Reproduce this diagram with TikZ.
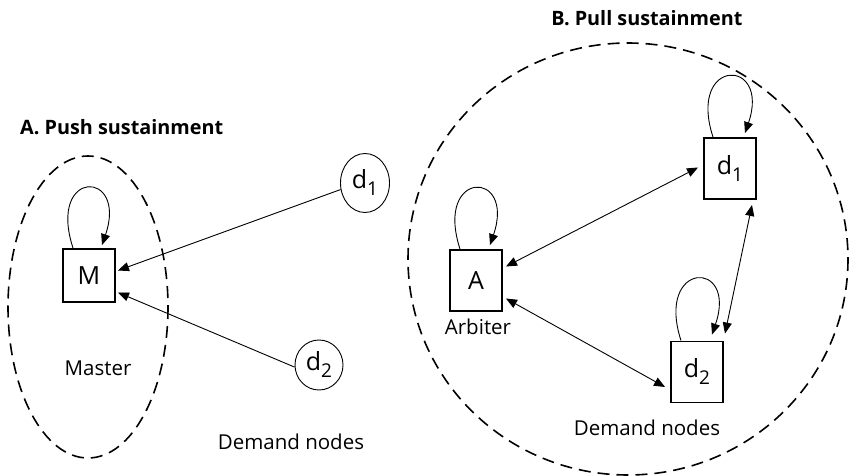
\documentclass[tikz,border=0pt]{standalone}
\usepackage{fontspec}
\setmainfont{Open Sans}
\usetikzlibrary{arrows.meta,shapes.geometric,calc}
\newcommand{\sbs}[1]{\raisebox{-0.28em}{\fontsize{19}{20}\selectfont #1}}
\begin{document}
\begin{tikzpicture}[x=1pt,y=-1pt,
  box/.style={draw,line width=1.9pt,minimum width=52pt,minimum height=61pt,inner sep=0pt,font=\fontsize{25}{28}\selectfont},
  dnode/.style={draw,ellipse,line width=0.9pt,inner sep=0pt,font=\fontsize{25}{28}\selectfont},
  lbl/.style={font=\fontsize{20.5}{24}\selectfont,inner sep=0pt},
  ttl/.style={font=\fontsize{19.8}{23}\selectfont\bfseries,inner sep=0pt},
  arr/.style={-{Triangle[length=11pt,width=9pt]},line width=0.9pt},
  darr/.style={{Triangle[length=11pt,width=9pt]}-{Triangle[length=11pt,width=9pt]},line width=0.9pt},
  group/.style={draw,line width=1.6pt,dash pattern=on 12pt off 7pt}]
\useasboundingbox (0,0) rectangle (849,476);
% A. Push
\node[ttl,anchor=west] (tA) at (20,127) {A. Push sustainment};
\draw[group] (88,307) ellipse [x radius=80, y radius=151];
\node[box,minimum height=53pt] (M) at (89,275.5) {M};
\node[lbl] (master) at (98,368) {Master};
\node[dnode,minimum width=49pt,minimum height=59pt] (d1a) at (365,183) {d\sbs{1}};
\node[dnode,minimum width=48pt,minimum height=50pt] (d2a) at (319,365) {d\sbs{2}};
\node[lbl] (demA) at (291,442) {Demand nodes};
\draw[arr] (d1a.195) -- ($(M.east)+(2,-5)$);
\draw[arr] (d2a.185) -- ($(M.east)+(2,17)$);
\draw[arr] ($(M.north)+(-16,0)$) .. controls +(-26,-80) and +(26,-76) .. ($(M.north)+(13,-3)$);
% B. Pull
\node[ttl] (tB) at (647,18) {B. Pull sustainment};
\draw[group] (628,259) ellipse [x radius=220, y radius=216];
\node[box] (A) at (476,280.5) {A};
\node[lbl] (arb) at (478,327) {Arbiter};
\node[box] (d1) at (730,168.5) {d\sbs{1}};
\node[box] (d2) at (697,372) {d\sbs{2}};
\node[lbl] (demB) at (647,428) {Demand nodes};
\draw[darr] ($(A.east)+(3,-14)$) -- ($(d1.west)+(-5,-1)$);
\draw[darr] ($(A.east)+(3,18)$) -- ($(d2.west)+(-5,15)$);
\draw[darr] ($(d1.south)+(22,5)$) -- ($(d2.north)+(28,-7)$);
\draw[arr] ($(A.north)+(-16,0)$) .. controls +(-26,-80) and +(26,-76) .. ($(A.north)+(14,-4)$);
\draw[arr] ($(d1.north)+(-17,0)$) .. controls +(-26,-80) and +(26,-76) .. ($(d1.north)+(15,-4)$);
\draw[arr] ($(d2.north)+(-16,0)$) .. controls +(-26,-80) and +(26,-76) .. ($(d2.north)+(15,-6)$);
\end{tikzpicture}
\end{document}
